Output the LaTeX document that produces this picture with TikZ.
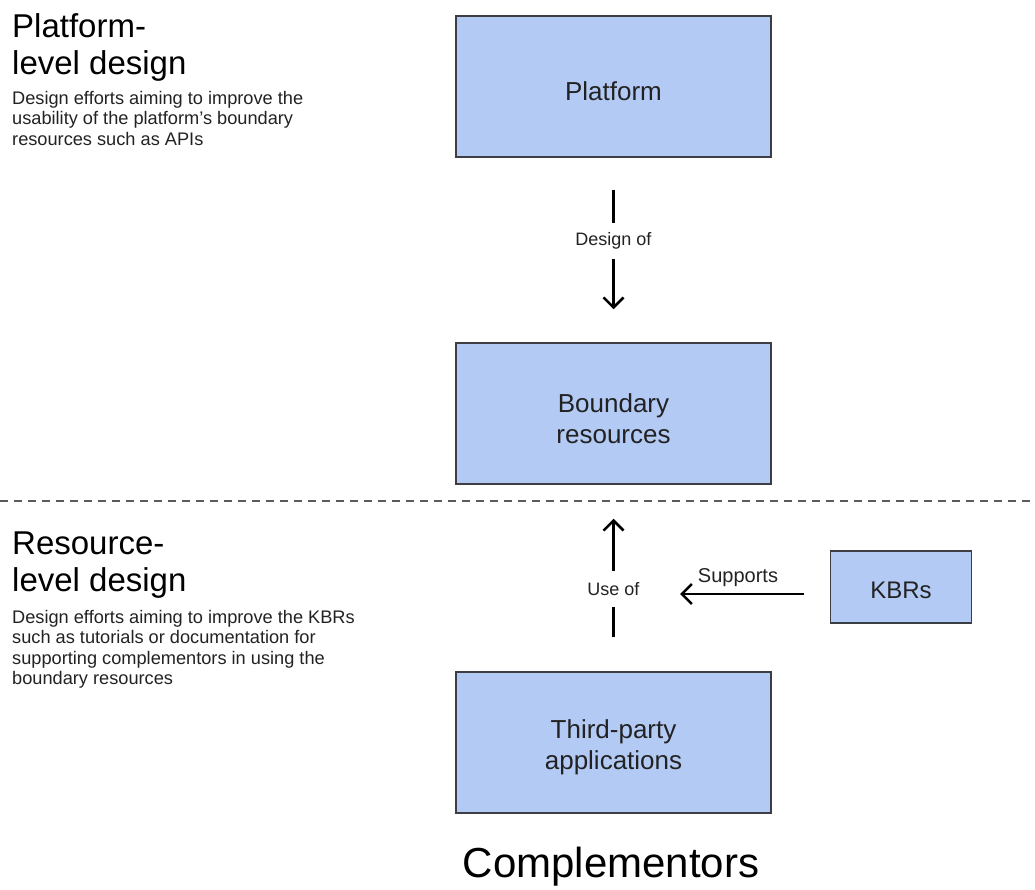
\documentclass[tikz,border=0pt]{standalone}
\usepackage{fontspec}
\setmainfont{Liberation Sans}
\usetikzlibrary{arrows.meta}

\definecolor{boxfill}{RGB}{179,202,245}
\definecolor{boxline}{RGB}{60,62,68}
\definecolor{inkgray}{RGB}{34,34,34}
\definecolor{dashgray}{RGB}{90,90,90}

\newcommand{\fs}[2]{\fontsize{#1}{#2}\selectfont}

\tikzset{
  box/.style={draw=boxline, fill=boxfill, line width=1.5pt,
    minimum width=315pt, minimum height=141pt, inner sep=0pt},
  smallbox/.style={box, minimum width=141pt, minimum height=72pt},
  boxtext/.style={align=center, text=inkgray, font=\fs{26}{31}, inner sep=0pt},
  title/.style={anchor=north west, align=left, inner sep=0pt, text=black, font=\fs{33}{37}},
  desc/.style={anchor=north west, align=left, inner sep=0pt, text=inkgray, font=\fs{18.2}{20.5}},
  flowlabel/.style={fill=white, inner sep=0pt, minimum height=36pt, text=inkgray, font=\fs{18}{22}},
  flow/.style={line width=2.5pt, black, -{Straight Barb[length=10pt,width=20pt]}},
}

\begin{document}
\begin{tikzpicture}[x=1pt, y=-1pt]
  \useasboundingbox (0,0) rectangle (1035,890);

  % left-hand descriptions of the two design levels
  \node[title] (plattitle) at (12,13) {Platform-\\level design};
  \node[desc] (platdesc) at (12,91) {Design efforts aiming to improve the\\usability of the platform’s boundary\\resources such as APIs};

  \node[title] (restitle) at (12,532) {Resource-\\level design};
  \node[desc] (resdesc) at (12,610) {Design efforts aiming to improve the KBRs\\such as tutorials or documentation for\\supporting complementors in using the\\boundary resources};

  % separator between the two levels
  \draw[dashgray, line width=1.5pt, dash pattern=on 8pt off 6pt] (0,501) -- (1035,501);

  % main boxes
  \node[box, label={[boxtext, yshift=-5pt]center:Platform}] (plat) at (613.5,86.5) {};
  \node[box, label={[boxtext, yshift=-5pt]center:Boundary\\resources}] (bnd) at (613.5,413.5) {};
  \node[box, label={[boxtext, yshift=-5pt]center:Third-party\\applications}] (third) at (613.5,742.5) {};
  \node[smallbox, label={[boxtext, font=\fs{24}{28}, yshift=-3pt]center:KBRs}] (kbr) at (901,587) {};

  % connectors
  \draw[flow, shorten <=32pt, shorten >=33pt] (plat) -- node[flowlabel, pos=0.452] (designof) {Design of} (bnd);
  \draw[flow, shorten <=34pt, shorten >=34pt] (third) -- node[flowlabel, pos=0.441] (useof) {Use of} (bnd);

  \coordinate (supend) at (680,594);
  \draw[flow, shorten <=26pt] (kbr.west |- supend) -- (supend);
  \node[text=inkgray, font=\fs{20}{24}, inner sep=0pt] (supports) at (738,578) {Supports};

  % caption under the diagram
  \node[anchor=base, inner sep=0pt, font=\fs{42}{48}, text=black] (compl) at (611,877) {Complementors};
\end{tikzpicture}
\end{document}
